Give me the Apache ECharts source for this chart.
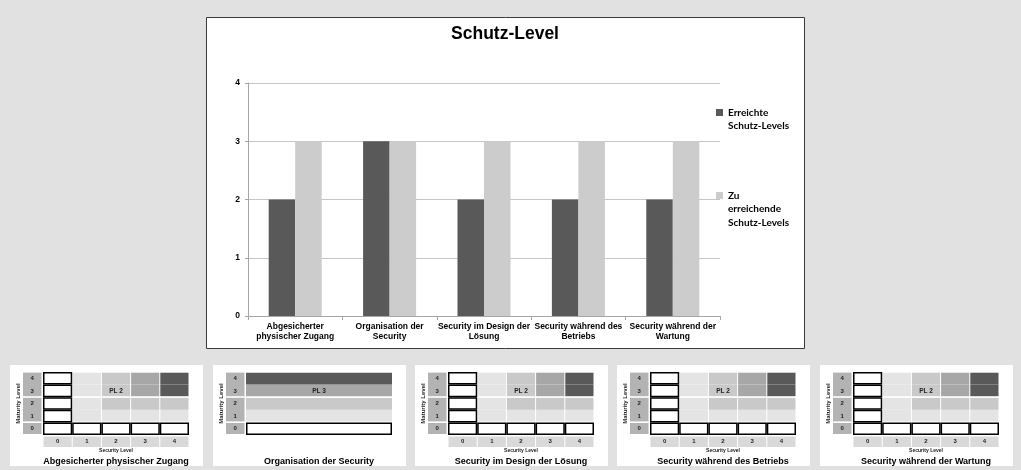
<!DOCTYPE html>
<html lang="de">
<head>
<meta charset="utf-8">
<title>Schutz-Level</title>
<script src="https://cdn.jsdelivr.net/npm/echarts@6/dist/echarts.min.js"></script>
<style>
  html, body { margin: 0; padding: 0; background: #e1e1e1; }
  #chart { width: 1021px; height: 470px; }
</style>
</head>
<body>
<div id="chart"></div>
<script>
// Bewertete Bereiche
const categories = [
  'Abgesicherter physischer Zugang',
  'Organisation der Security',
  'Security im Design der Lösung',
  'Security während des Betriebs',
  'Security während der Wartung'
];
const axisLabels = [
  'Abgesicherter\nphysischer Zugang',
  'Organisation der\nSecurity',
  'Security im Design der\nLösung',
  'Security während des\nBetriebs',
  'Security während der\nWartung'
];
// Schutz-Levels je Bereich
const achieved = [2, 3, 2, 2, 2];
const target = [3, 3, 3, 3, 3];
const seriesNames = ['Erreichte Schutz-Levels', 'Zu erreichende Schutz-Levels'];
const legendLines = [['Erreichte', 'Schutz-Levels'], ['Zu', 'erreichende', 'Schutz-Levels']];

// Matrix der Schutz-Levels (Security Level x Maturity Level)
const securityLevels = [0, 1, 2, 3, 4];
const maturityLevels = [0, 1, 2, 3, 4];
const matrixKinds = ['sl-ml', 'ml', 'sl-ml', 'sl-ml', 'sl-ml'];
// Zone je Zelle: Zeilen ML 1..4, Spalten SL 1..4
const zoneBySlMl = [
  [1, 1, 1, 1],
  [1, 2, 2, 2],
  [1, 2, 3, 4],
  [1, 2, 3, 4]
];
// Zone je Zeile ML 1..4 (ohne Security-Level-Achse)
const zoneByMl = [1, 2, 3, 4];

// Layout
const FONT = '"Liberation Sans", Arial, sans-serif';
const panelLeft = [10, 213, 415, 617, 820];
const panelWidth = 193;
const matrixOffset = 33;
const matrixWidth = 146;
const matrixTop = 372;
const matrixHeight = 63;
const shadeColors = { 1: '#e4e4e4', 2: '#c9c9c9', 3: '#a7a7a7', 4: '#595959' };

function buildCells(kind, pl) {
  const cells = [];
  [[0, 0], [1, 2], [3, 4]].forEach(([a, b]) => {
    cells.push({ type: 'rowLabel', y0: a, y1: b + 1, rows: maturityLevels.slice(a, b + 1) });
  });
  if (kind === 'ml') {
    zoneByMl.forEach((z, i) => {
      const ml = i + 1;
      cells.push({ type: 'shade', x0: 0, x1: 5, y0: ml, y1: ml + 1, zone: z, ml, full: true });
    });
    cells.push({ type: 'box', x0: 0, x1: 5, y0: 0, y1: 1 });
    const ml = zoneByMl.indexOf(pl) + 1;
    cells.push({ type: 'pl', x0: 0, x1: 5, y0: ml, y1: ml + 1, text: 'PL ' + pl });
  } else {
    zoneBySlMl.forEach((row, i) => row.forEach((z, j) => {
      cells.push({ type: 'shade', x0: j + 1, x1: j + 2, y0: i + 1, y1: i + 2, zone: z, ml: i + 1 });
    }));
    maturityLevels.forEach(ml => cells.push({ type: 'box', x0: 0, x1: 1, y0: ml, y1: ml + 1 }));
    securityLevels.slice(1).forEach(sl => cells.push({ type: 'box', x0: sl, x1: sl + 1, y0: 0, y1: 1 }));
    securityLevels.forEach(sl => cells.push({ type: 'colLabel', x0: sl, x1: sl + 1, text: String(sl) }));
    const sl = zoneBySlMl[2].indexOf(pl) + 1;
    cells.push({ type: 'pl', x0: sl, x1: sl + 1, y0: 3, y1: 4, text: 'PL ' + pl });
  }
  return cells;
}

function textEl(x, y, str, font, fill) {
  return {
    type: 'text', x: x, y: y,
    style: {
      text: str, font: font, fill: fill || '#222',
      align: 'center', verticalAlign: 'middle',
      textAlign: 'center', textVerticalAlign: 'middle'
    }
  };
}

function makeRenderer(cells) {
  const small = 'bold 6px ' + FONT;
  return function (params, api) {
    const c = cells[params.dataIndex];
    const origin = api.coord([0, 0]);
    if (c.type === 'rowLabel') {
      const top = api.coord([0, c.y1])[1] + 0.6;
      const bottom = api.coord([0, c.y0])[1] - 1;
      const x0 = origin[0] - 20, x1 = origin[0] - 1.5;
      const children = [{ type: 'rect', shape: { x: x0, y: top, width: x1 - x0, height: bottom - top }, style: { fill: '#b3b3b3' } }];
      c.rows.forEach(r => {
        children.push(textEl((x0 + x1) / 2, api.coord([0, r + 0.5])[1], String(r), small));
      });
      return { type: 'group', children };
    }
    const tl = api.coord([c.x0, c.y1 !== undefined ? c.y1 : 0]);
    const br = api.coord([c.x1, c.y0 !== undefined ? c.y0 : 0]);
    if (c.type === 'shade') {
      const xi = c.full ? 0 : 0.5;
      const topIn = c.ml % 2 === 0 ? 0.7 : 0;
      const botIn = c.ml % 2 === 1 ? 1 : 0;
      return {
        type: 'rect',
        shape: { x: tl[0] + xi, y: tl[1] + topIn, width: br[0] - tl[0] - 2 * xi, height: br[1] - tl[1] - topIn - botIn },
        style: { fill: shadeColors[c.zone] }
      };
    }
    if (c.type === 'box') {
      return {
        type: 'rect',
        shape: { x: tl[0] + 0.75, y: tl[1] + 0.75, width: br[0] - tl[0] - 1.5, height: br[1] - tl[1] - 1.5 },
        style: { fill: '#ffffff', stroke: '#000000', lineWidth: 1.5 }
      };
    }
    if (c.type === 'colLabel') {
      const y0 = origin[1] + 1.5, y1 = origin[1] + 12;
      return {
        type: 'group',
        children: [
          { type: 'rect', shape: { x: tl[0] + 0.5, y: y0, width: br[0] - tl[0] - 1, height: y1 - y0 }, style: { fill: '#d9d9d9' } },
          textEl((tl[0] + br[0]) / 2, (y0 + y1) / 2, c.text, small)
        ]
      };
    }
    // PL label
    return textEl((tl[0] + br[0]) / 2, (tl[1] + br[1]) / 2 + 0.5, c.text, 'bold 6.5px ' + FONT);
  };
}

const grids = [{ left: 248, right: 301, top: 83, bottom: 154, outerBoundsMode: 'none', containLabel: false }];
const xAxes = [{
  type: 'category', gridIndex: 0, data: axisLabels,
  axisLine: { show: true, lineStyle: { color: '#a6a6a6', width: 1 } },
  axisTick: { show: true, alignWithLabel: false, length: 4, lineStyle: { color: '#a6a6a6' } },
  axisLabel: { interval: 0, color: '#000', fontFamily: FONT, fontWeight: 'bold', fontSize: 8.5, lineHeight: 10.5, margin: 5 },
  splitLine: { show: false }
}];
const yAxes = [{
  type: 'value', gridIndex: 0, min: 0, max: 4, interval: 1,
  axisLine: { show: true, lineStyle: { color: '#a6a6a6', width: 1 } },
  axisTick: { show: true, length: 3, lineStyle: { color: '#a6a6a6' } },
  axisLabel: { color: '#000', fontFamily: FONT, fontWeight: 'bold', fontSize: 8.5, margin: 8 },
  splitLine: { show: true, lineStyle: { color: '#c6c6c6', width: 1 } }
}];
const series = [
  { name: seriesNames[0], type: 'bar', xAxisIndex: 0, yAxisIndex: 0, data: achieved, barWidth: 26.5, barGap: '0%', itemStyle: { color: '#595959' }, silent: true },
  { name: seriesNames[1], type: 'bar', xAxisIndex: 0, yAxisIndex: 0, data: target, barWidth: 26.5, barGap: '0%', itemStyle: { color: '#cccccc' }, silent: true }
];
const titles = [{
  text: 'Schutz-Level', left: 505, top: 25, textAlign: 'center', padding: 0,
  textStyle: { fontFamily: FONT, fontWeight: 'bold', fontSize: 17.5, color: '#000' }
}];
const graphics = [{
  type: 'rect', z: -10, silent: true,
  shape: { x: 206.5, y: 17.5, width: 598, height: 331 },
  style: { fill: '#ffffff', stroke: '#3a3a3a', lineWidth: 1 }
}];

categories.forEach((name, i) => {
  const L = panelLeft[i];
  const kind = matrixKinds[i];
  const gi = i + 1;
  graphics.push({
    type: 'rect', z: -10, silent: true,
    shape: { x: L, y: 365, width: panelWidth, height: 101 },
    style: { fill: '#ffffff' }
  });
  grids.push({ left: L + matrixOffset, top: matrixTop, width: matrixWidth, height: matrixHeight, outerBoundsMode: 'none', containLabel: false });
  xAxes.push({
    type: 'value', gridIndex: gi, min: 0, max: 5,
    axisLine: { show: false }, axisTick: { show: false }, axisLabel: { show: false }, splitLine: { show: false },
    name: kind === 'sl-ml' ? 'Security Level' : '', nameLocation: 'middle', nameGap: 13,
    nameTextStyle: { fontFamily: FONT, fontWeight: 'bold', fontSize: 5, color: '#222' }
  });
  yAxes.push({
    type: 'value', gridIndex: gi, min: 0, max: 5,
    axisLine: { show: false }, axisTick: { show: false }, axisLabel: { show: false }, splitLine: { show: false },
    name: 'Maturity Level', nameLocation: 'middle', nameGap: 22,
    nameTextStyle: { fontFamily: FONT, fontWeight: 'bold', fontSize: 6, color: '#222' }
  });
  const cells = buildCells(kind, achieved[i]);
  series.push({
    type: 'custom', coordinateSystem: 'cartesian2d', xAxisIndex: gi, yAxisIndex: gi, silent: true,
    data: cells.map(() => [0, 0]),
    renderItem: makeRenderer(cells)
  });
  titles.push({
    text: name, left: L + matrixOffset + matrixWidth / 2, top: 457, textAlign: 'center', padding: 0,
    textStyle: { fontFamily: FONT, fontWeight: 'bold', fontSize: 9, color: '#000' }
  });
});

// Legendeneintrag: Symbol auf Höhe der ersten Textzeile (Leerzeilen darüber gleichen die Zentrierung aus)
function legendFor(idx, iconCenter, lines) {
  const lh = 13.5;
  const total = 2 * lines.length - 1;
  return {
    data: [seriesNames[idx]], left: 716, top: iconCenter - total * lh / 2, padding: 0, orient: 'vertical',
    icon: 'rect', itemWidth: 7, itemHeight: 7, selectedMode: false,
    formatter: () => '\n'.repeat(lines.length - 1) + lines.join('\n'),
    textStyle: {
      fontFamily: 'Lato, "Open Sans", sans-serif', fontWeight: 'bold', fontSize: 10, color: '#000',
      lineHeight: lh
    }
  };
}

const chart = echarts.init(document.getElementById('chart'), null, { renderer: 'canvas' });
chart.setOption({
  backgroundColor: '#e1e1e1',
  animation: false,
  title: titles,
  legend: [
    legendFor(0, 112.5, legendLines[0]),
    legendFor(1, 195.5, legendLines[1])
  ],
  grid: grids,
  xAxis: xAxes,
  yAxis: yAxes,
  graphic: { elements: graphics },
  series: series
});
</script>
</body>
</html>
